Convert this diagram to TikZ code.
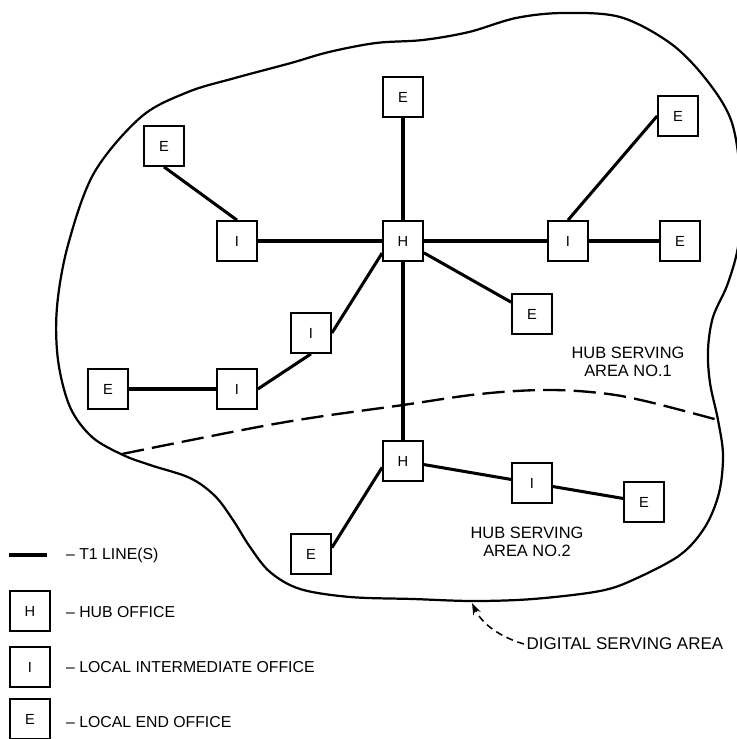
\documentclass[tikz,border=0pt]{standalone}
\usepackage{fontspec}
\setmainfont{Liberation Sans}
\usetikzlibrary{arrows.meta}
\begin{document}
\begin{tikzpicture}[x=0.03cm,y=-0.03cm,
  office/.style={draw,line width=1.5pt,minimum size=1.2cm,inner sep=0pt,font=\fontsize{12.5}{13}\selectfont},
  tline/.style={line width=2.6pt},
  boundary/.style={line width=1.9pt},
  divider/.style={line width=2pt,dash pattern=on 19pt off 7pt},
  pointer/.style={line width=1.3pt,dash pattern=on 6pt off 4pt,-{Stealth[length=10pt,width=7pt]}},
  arealabel/.style={align=center,font=\fontsize{14}{15.5}\selectfont},
  legendtext/.style={anchor=west,font=\fontsize{13.5}{14}\selectfont}]
\useasboundingbox (0,0) rectangle (736,739);

% digital serving area boundary
\draw[boundary] plot[smooth cycle, tension=0.55] coordinates {
 (57,307) (68,245) (94,173) (141,117) (188,92) (235,78) (291,63) (329,52)
 (376,43) (423,40) (469,32) (516,18) (563,13) (620,17) (670,43) (705,78)
 (731,120) (740,175) (739,240) (728,283) (713,317) (708,350) (710,383)
 (718,420) (723,455) (719,493) (705,527) (680,555) (635,579) (600,591)
 (533,599) (473,601) (413,599) (350,597) (300,589) (270,572) (250,547)
 (233,520) (215,496) (190,478) (150,465) (123,455) (92,437) (70,407) (58,360)};

% hub area divider
\draw[divider] plot[smooth, tension=0.6] coordinates {
 (122,454) (280,423) (403,405) (480,394) (545,390) (600,393) (645,401) (718,420)};

% offices
\node[office] (Etop) at (403,97) {E};
\node[office] (Eul) at (164,146) {E};
\node[office] (Etr) at (678,116) {E};
\node[office] (Il) at (237,241) {I};
\node[office] (Ht) at (403,241) {H};
\node[office] (Ir) at (568,241) {I};
\node[office] (Er) at (680,241) {E};
\node[office] (Em) at (532,314) {E};
\node[office] (Im) at (311,333) {I};
\node[office] (Ilo) at (237,389) {I};
\node[office] (El) at (108,389) {E};
\node[office] (Hb) at (403,461) {H};
\node[office] (Ibr) at (532,483) {I};
\node[office] (Ebr) at (644,502) {E};
\node[office] (Ebl) at (311,554) {E};

% T1 lines
\draw[tline] (Etop) -- (Ht);
\draw[tline] (Eul.south) -- (Il.north);
\draw[tline] (Il) -- (Ht);
\draw[tline] (Ht) -- (Ir);
\draw[tline] (Ir) -- (Er);
\draw[tline] (Ir.north) -- (Etr.west);
\draw[tline] (Ht) -- (Em);
\draw[tline] (Ht.210) -- (Im.east);
\draw[tline] (Im.south) -- (Ilo.east);
\draw[tline] (El) -- (Ilo);
\draw[tline] (Ht) -- (Hb);
\draw[tline] (Hb) -- (Ibr);
\draw[tline] (Ibr) -- (Ebr);
\draw[tline] (Hb.197) -- (Ebl.17);

% area labels
\node[arealabel] (a1) at (628,362) {HUB SERVING\\AREA NO.1};
\node[arealabel] (a2) at (527,542) {HUB SERVING\\AREA NO.2};

% digital serving area pointer
\coordinate (tip) at (472,603);
\node[anchor=west,inner sep=2pt,font=\fontsize{14.5}{15}\selectfont] (dsa) at (524,644) {DIGITAL SERVING AREA};
\draw[pointer] (dsa.west) .. controls (500,637) and (482,624) .. (tip);

% legend
\coordinate (l1) at (9,555);
\coordinate (l2) at (47,555);
\draw[tline] (l1) -- (l2);
\node[legendtext] (t1) at (62,555) {– T1 LINE(S)};
\node[office] (lH) at (30,611) {H};
\node[legendtext] (t2) at (62,612) {– HUB OFFICE};
\node[office] (lI) at (30,667) {I};
\node[legendtext] (t3) at (62,667) {– LOCAL INTERMEDIATE OFFICE};
\node[office] (lE) at (30,719) {E};
\node[legendtext] (t4) at (62,722) {– LOCAL END OFFICE};
\end{tikzpicture}
\end{document}
